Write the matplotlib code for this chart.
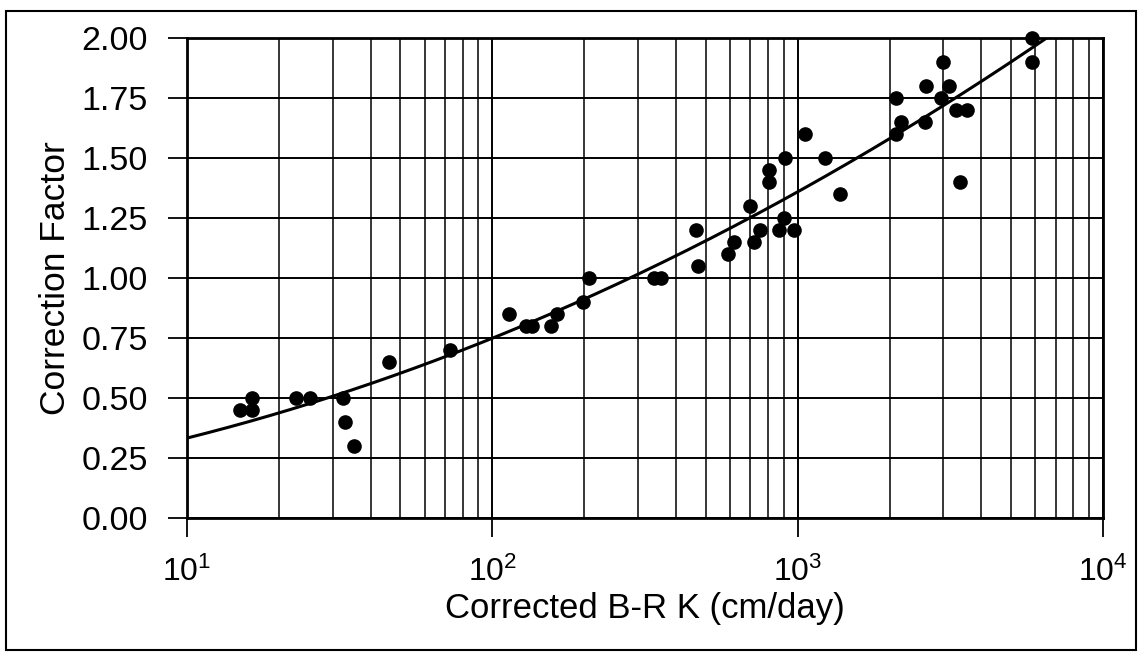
import numpy as np
import matplotlib
matplotlib.use('Agg')
import matplotlib.pyplot as plt
from matplotlib.ticker import LogLocator, FormatStrFormatter, MultipleLocator, NullFormatter
from matplotlib.patches import Rectangle

plt.rcParams['font.family'] = ['Liberation Sans', 'DejaVu Sans']

# points
k_br = [14.9, 16.3, 16.3, 22.8, 25.2, 32.4, 33.0, 35.3, 45.9, 72.9,
        113, 129, 135, 156, 163, 198, 207, 338, 356, 463,
        470, 592, 619, 699, 721, 755, 808, 808, 866, 904,
        910, 975, 1057, 1225, 1371, 2094, 2094, 2188, 2609, 2642,
        2938, 2989, 3137, 3296, 3398, 3573, 5862, 5862]
corr = [0.45, 0.50, 0.45, 0.50, 0.50, 0.50, 0.40, 0.30, 0.65, 0.70,
        0.85, 0.80, 0.80, 0.80, 0.85, 0.90, 1.00, 1.00, 1.00, 1.20,
        1.05, 1.10, 1.15, 1.30, 1.15, 1.20, 1.45, 1.40, 1.20, 1.25,
        1.50, 1.20, 1.60, 1.50, 1.35, 1.60, 1.75, 1.65, 1.65, 1.80,
        1.75, 1.90, 1.80, 1.70, 1.40, 1.70, 2.00, 1.90]
# trend line, quadratic in log10(K), coefficients
trend_coef = [0.097, 0.125, 0.111]

W, H = 1140, 652
fig = plt.figure(figsize=(W / 100, H / 100), dpi=100)
ax = fig.add_axes([187 / W, 1 - 518 / H, (1103 - 187) / W, (518 - 38) / H])

xs = np.logspace(1, 4, 400)
ax.plot(xs, np.polyval(trend_coef, np.log10(xs)), color='black', lw=2.2, zorder=3)
ax.plot(k_br, corr, 'o', color='black', ms=9.5, zorder=4, clip_on=False)

ax.set_xscale('log')
ax.set_xlim(10, 1e4)
ax.set_ylim(0, 2.0)
ax.xaxis.set_major_locator(LogLocator(base=10, numticks=10))
ax.xaxis.set_minor_locator(LogLocator(base=10, subs=np.arange(2, 10), numticks=20))
ax.xaxis.set_minor_formatter(NullFormatter())
ax.yaxis.set_major_locator(MultipleLocator(0.25))
ax.yaxis.set_major_formatter(FormatStrFormatter('%.2f'))

ax.grid(True, which='major', color='black', lw=1.4)
ax.grid(True, which='minor', axis='x', color='black', lw=1.1)
ax.set_axisbelow(True)
for s in ax.spines.values():
    s.set_linewidth(2)

ax.tick_params(axis='both', which='major', direction='out', length=14, width=1.3,
               color='black')
ax.tick_params(axis='y', pad=14, labelsize=24.5)
ax.tick_params(axis='x', pad=14, labelsize=23)
ax.tick_params(axis='x', which='minor', length=0)

ax.set_xlabel('Corrected B-R K (cm/day)', fontsize=25, labelpad=3)
ax.set_ylabel('Correction Factor', fontsize=25.5, labelpad=7)

# outer frame round the whole chart
fig.patches.append(Rectangle((6 / W, 2 / H), 1130 / W, 639 / H, transform=fig.transFigure,
                             fill=False, edgecolor='black', lw=1.5))

fig.savefig('out.png', dpi=100)
